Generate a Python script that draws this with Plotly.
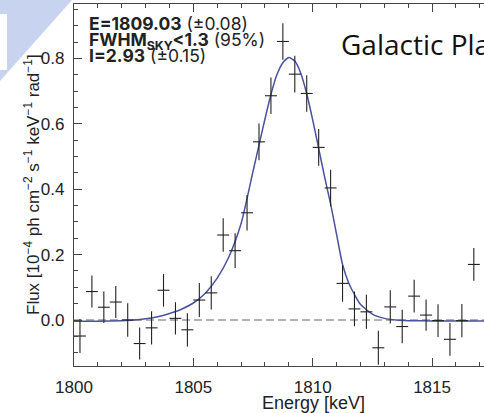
import plotly.graph_objects as go

# Measured spectrum: bin centres (keV), flux and 1-sigma errors
energy_kev = [1800.25, 1800.75, 1801.25, 1801.75, 1802.25, 1802.75, 1803.25, 1803.75,
              1804.25, 1804.75, 1805.25, 1805.75, 1806.25, 1806.75, 1807.25, 1807.75,
              1808.25, 1808.75, 1809.25, 1809.75, 1810.25, 1810.75, 1811.25, 1811.75,
              1812.25, 1812.75, 1813.25, 1813.75, 1814.25, 1814.75, 1815.25, 1815.75,
              1816.25, 1816.75]
flux = [-0.049, 0.087, 0.039, 0.055, 0.000, -0.072, -0.024, 0.091,
        0.005, -0.030, 0.061, 0.083, 0.260, 0.212, 0.328, 0.545,
        0.686, 0.852, 0.752, 0.693, 0.528, 0.404, 0.112, 0.034,
        0.025, -0.085, 0.040, -0.020, 0.073, 0.015, -0.002, -0.059,
        -0.002, 0.170]
flux_err = [0.052, 0.049, 0.048, 0.049, 0.051, 0.049, 0.051, 0.050,
            0.049, 0.051, 0.052, 0.051, 0.051, 0.053, 0.054, 0.056,
            0.056, 0.056, 0.056, 0.056, 0.056, 0.056, 0.056, 0.053,
            0.052, 0.052, 0.051, 0.051, 0.050, 0.048, 0.050, 0.050,
            0.051, 0.050]
bin_half_width = 0.25

# Fitted line profile sampled along the energy axis
model_energy = [1800.0, 1801.0, 1802.0, 1802.5, 1803.0, 1803.5, 1804.0, 1804.5,
                1805.0, 1805.5, 1806.0, 1806.5, 1807.0, 1807.5, 1807.75, 1808.0,
                1808.25, 1808.5, 1808.75, 1809.0, 1809.25, 1809.5, 1809.75, 1810.0,
                1810.25, 1810.5, 1810.75, 1811.0, 1811.25, 1811.5, 1811.75, 1812.0,
                1812.5, 1813.0, 1813.5, 1814.0, 1815.0, 1816.0, 1817.2]
model_flux = [-0.004, -0.004, -0.002, 0.000, 0.004, 0.010, 0.020, 0.033,
              0.052, 0.082, 0.128, 0.195, 0.295, 0.455, 0.535, 0.615,
              0.690, 0.750, 0.787, 0.803, 0.792, 0.755, 0.692, 0.612,
              0.525, 0.437, 0.355, 0.262, 0.170, 0.115, 0.078, 0.048,
              0.018, 0.005, 0.000, -0.002, -0.003, -0.003, -0.003]

x_ticks = [1800, 1805, 1810, 1815]
y_ticks = [0.0, 0.2, 0.4, 0.6, 0.8]

fit_lines = [
    "<b>E=1809.03</b> (±0.08)",
    "<b>FWHM<sub>SKY</sub>&lt;1.3</b> (95%)",
    "<b>I=2.93</b> (±0.15)",
]

W, H = 484, 413
ML, MR, MT, MB = 74, 0, 4, 47
PW, PH = W - ML - MR, H - MT - MB


def px(x):
    return (x - ML) / PW


def py(y):
    return 1 - (y - MT) / PH


FONT = "Liberation Sans, Arial, Helvetica, sans-serif"
BOX_FONT = "Inter, Liberation Sans, Arial, sans-serif"
INK = "#222222"
AXIS = "#444444"

fig = go.Figure()

fig.add_trace(go.Scatter(
    x=model_energy, y=model_flux, mode="lines",
    line=dict(color="#4a529e", width=1.5, shape="spline", smoothing=0.6),
    hoverinfo="skip", showlegend=False,
))

fig.add_trace(go.Scatter(
    x=energy_kev, y=flux, mode="markers",
    marker=dict(size=1, color="rgba(0,0,0,0)"),
    error_x=dict(type="constant", value=bin_half_width, color=INK, thickness=1.1, width=0),
    error_y=dict(type="data", array=flux_err, color=INK, thickness=1.1, width=0),
    showlegend=False,
))

shapes = [
    # zero level
    dict(type="line", xref="paper", yref="y", x0=0, x1=1, y0=0, y1=0,
         line=dict(color="#9a9a9a", width=1.5, dash="8px,4px"), layer="below"),
    # corner decoration
    dict(type="path", xref="paper", yref="paper",
         path=f"M {px(0)},{py(0)} L {px(72)},{py(0)} L {px(0)},{py(81)} Z",
         fillcolor="#c8d4ef", line=dict(width=0), layer="above"),
    dict(type="rect", xref="paper", yref="paper",
         x0=px(0), x1=px(7), y0=py(70), y1=py(14),
         fillcolor="white", line=dict(width=0), layer="above"),
]

annotations = []
for i, t in enumerate(fit_lines):
    annotations.append(dict(
        text=t, xref="paper", yref="paper", x=px(87), y=py(10.5 + 16 * i),
        xanchor="left", yanchor="top", showarrow=False, align="left",
        font=dict(family=BOX_FONT, size=17.5, color=INK),
    ))

annotations.append(dict(
    text="Galactic Plane", xref="paper", yref="paper", x=px(339), y=py(44),
    xanchor="left", yanchor="middle", showarrow=False,
    font=dict(family="Open Sans, Lato, sans-serif", size=28, color="#111111"),
))

annotations.append(dict(
    text="Energy [keV]", xref="x", yref="paper", x=1810.05, y=py(403),
    xanchor="center", yanchor="middle", showarrow=False,
    font=dict(family=FONT, size=18, color=INK),
))

annotations.append(dict(
    text="Flux [10<sup>−4</sup> ph cm<sup>−2</sup> s<sup>−1</sup> keV<sup>−1</sup> rad<sup>−1</sup>]",
    xref="paper", yref="paper", x=px(32), y=py(185), textangle=-90,
    xanchor="center", yanchor="middle", showarrow=False,
    font=dict(family=FONT, size=17, color=INK),
))

fig.update_layout(
    width=W, height=H,
    margin=dict(l=ML, r=MR, t=MT, b=MB, pad=0),
    paper_bgcolor="white", plot_bgcolor="white",
    shapes=shapes, annotations=annotations,
    showlegend=False,
)

fig.update_xaxes(
    range=[1800, 1800 + PW / 23.87],
    tickvals=x_ticks, ticktext=[str(v) for v in x_ticks],
    ticks="inside", ticklen=8, tickwidth=1, tickcolor=AXIS,
    minor=dict(dtick=1, tick0=1800, ticks="inside", ticklen=4, tickcolor=AXIS, tickwidth=1),
    showline=True, linecolor=AXIS, linewidth=1.2, mirror="ticks",
    showgrid=False, zeroline=False,
    tickfont=dict(family=FONT, size=17, color=INK),
    ticklabelstandoff=5,
)

fig.update_yaxes(
    range=[-(366 - 320) / 326.9, (320 - MT) / 326.9],
    tickvals=y_ticks, ticktext=[f"{v:.1f}" for v in y_ticks],
    ticks="inside", ticklen=8, tickwidth=1, tickcolor=AXIS,
    minor=dict(dtick=0.05, tick0=0, ticks="inside", ticklen=4, tickcolor=AXIS, tickwidth=1),
    showline=True, linecolor=AXIS, linewidth=1.2, mirror=False,
    showgrid=False, zeroline=False,
    tickfont=dict(family=FONT, size=17, color=INK),
    ticklabelstandoff=5,
)

fig.write_html("out.html")
